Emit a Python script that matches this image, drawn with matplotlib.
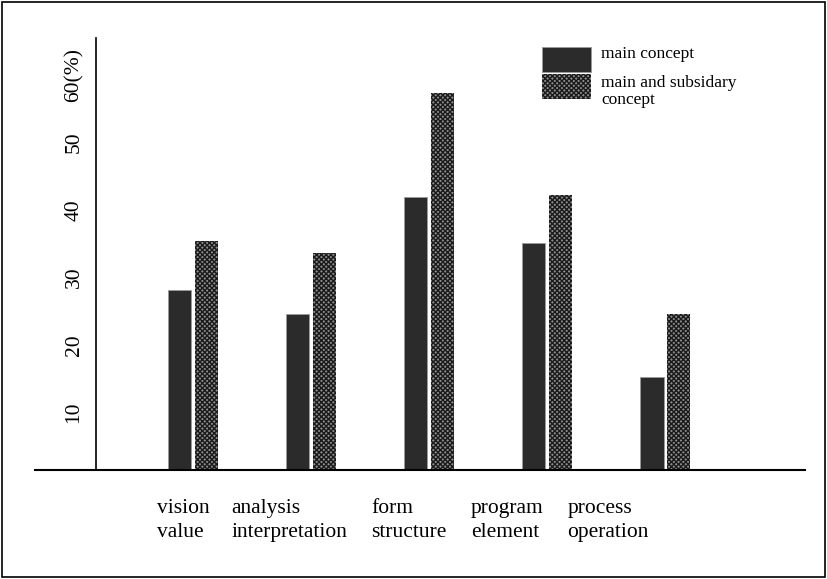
import numpy as np
import matplotlib
matplotlib.use('Agg')
import matplotlib.pyplot as plt
import matplotlib.transforms as mtransforms
from matplotlib.patches import Rectangle

plt.rcParams['font.family'] = ['Liberation Serif', 'DejaVu Serif']
plt.rcParams['hatch.linewidth'] = 1.0

categories = ['vision\nvalue', 'analysis\ninterpretation', 'form\nstructure',
              'program\nelement', 'process\noperation']
main_concept = [26.7, 23.1, 40.4, 33.6, 13.8]
main_and_sub = [33.9, 32.1, 55.9, 40.7, 23.1]
series_names = ['main concept', 'main and subsidary', 'concept']
yticks = [10, 20, 30, 40, 50, 60]
ytick_labels = ['10', '20', '30', '40', '50', '60(%)']

W, H = 827, 579
fig = plt.figure(figsize=(W / 100, H / 100), dpi=100)
fig.add_artist(Rectangle((0.003, 0.004), 0.994, 0.992, transform=fig.transFigure,
                         fill=False, edgecolor='black', linewidth=1.2))
ax = fig.add_axes([96 / W, 1 - 470 / H, (805 - 96) / W, (470 - 38) / H])

main_style = dict(facecolor='#2b2b2b', edgecolor='#9a9a9a', linewidth=0.6)
sub_style = dict(facecolor='#8c8c8c', edgecolor='#1a1a1a', hatch='xxxxxxx',
                 linewidth=0)

x = np.arange(len(categories))
w = 0.2
ax.bar(x - 0.113, main_concept, w, **main_style)
ax.bar(x + 0.113, main_and_sub, w, **sub_style)

ax.set_xlim(-0.822, 5.186)
ax.set_ylim(0, 64)
for s in ['top', 'right', 'bottom']:
    ax.spines[s].set_visible(False)
ax.spines['left'].set_linewidth(1.2)
# x axis line extends left of the y axis
ax.plot([-0.086, 1.0], [0, 0], transform=ax.transAxes, color='black',
        linewidth=1.5, clip_on=False)

ax.set_yticks(yticks)
ax.set_yticklabels(ytick_labels, rotation=90, va='center', fontsize=15.5)
ax.tick_params(axis='y', length=0, pad=9)
shift = mtransforms.ScaledTranslation(0, -10 / 100, fig.dpi_scale_trans)
for lab in ax.get_yticklabels():
    lab.set_transform(lab.get_transform() + shift)

ax.set_xticks(x)
ax.set_xticklabels(categories, fontsize=15.5, linespacing=1.35,
                   multialignment='left')
ax.tick_params(axis='x', length=0, pad=21)
xoffs = [-10, -22, -20, -40, -57]
for lab, dx in zip(ax.get_xticklabels(), xoffs):
    lab.set_transform(lab.get_transform() +
                      mtransforms.ScaledTranslation(dx / 100, 0, fig.dpi_scale_trans))

# legend drawn by hand (boxes touch, text sits high like the original)
def px(xp, yp):
    return xp / W, 1 - yp / H

fig.add_artist(Rectangle(px(542, 72), 49 / W, 25 / H, transform=fig.transFigure,
                         **main_style))
fig.add_artist(Rectangle(px(542, 99), 49 / W, 25 / H, transform=fig.transFigure,
                         **sub_style))
for name, yb in zip(series_names, [58, 87, 104]):
    fig.text(*px(601, yb), name, fontsize=12.5, va='baseline', ha='left')

fig.savefig('out.png', dpi=100)
